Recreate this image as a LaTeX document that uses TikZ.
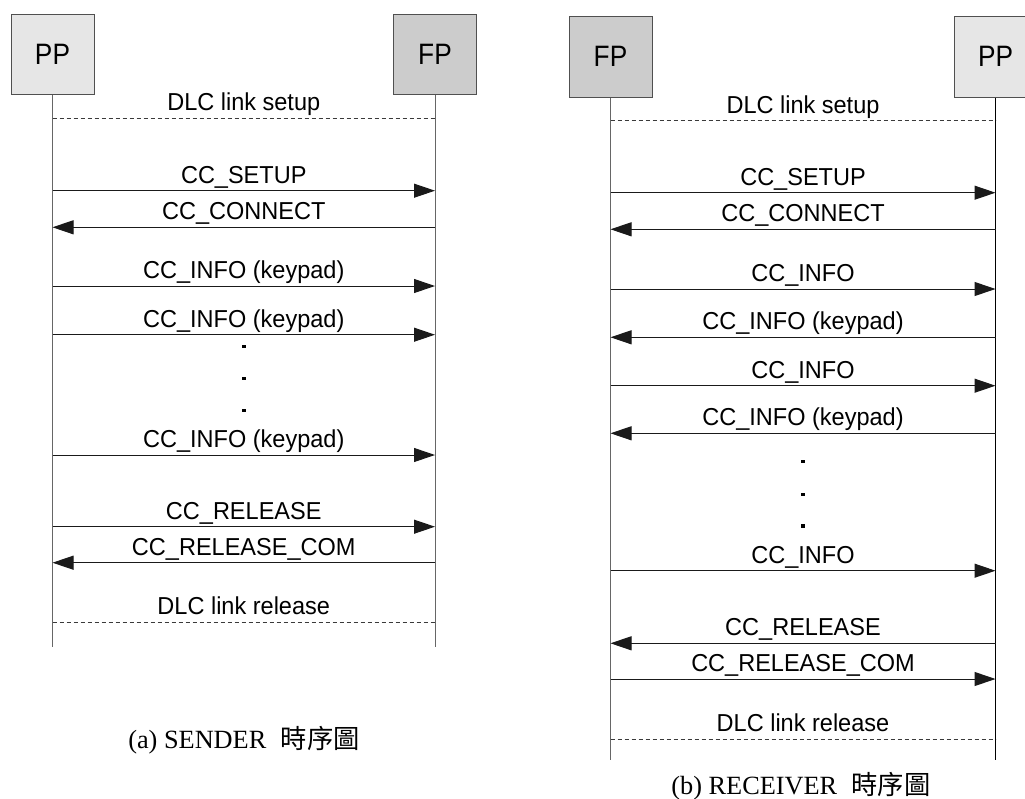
\documentclass[tikz,border=0pt]{standalone}
\usepackage{fontspec}
\usetikzlibrary{arrows.meta}
\newfontfamily\msgfont{Liberation Sans}[FakeStretch=0.96]
\newfontfamily\boxfont{Liberation Sans}[FakeStretch=0.89]
\newfontfamily\capfont{Liberation Serif}
\newfontfamily\cjkfont{Noto Sans CJK TC}

\definecolor{ppfill}{HTML}{E6E6E6}
\definecolor{fpfill}{HTML}{CCCCCC}
\definecolor{boxline}{HTML}{505050}
\definecolor{lifecol}{HTML}{666666}
\definecolor{msgcol}{HTML}{1A1A1A}
\definecolor{dashcol}{HTML}{3A3A3A}

\tikzset{
  entity/.style={draw=boxline, line width=1pt, inner sep=0pt,
    minimum width=83pt, minimum height=80pt,
    font=\boxfont\fontsize{29.5}{30}\selectfont},
  lifeline/.style={draw=lifecol, line width=1pt},
  msg/.style={draw=msgcol, line width=1pt,
    -{Triangle[length=21pt,width=14pt]}},
  dlcline/.style={draw=dashcol, line width=0.9pt, dash pattern=on 4pt off 3pt},
  lbl/.style={midway, anchor=base, yshift=7.5pt, inner sep=0pt,
    font=\msgfont\fontsize{24.5}{26}\selectfont, text=black},
  dotmark/.style={fill=black, inner sep=0pt, minimum size=3.4pt},
  caption/.style={anchor=base, inner sep=0pt,
    font=\capfont\fontsize{26.3}{28}\selectfont}
}

\begin{document}
\begin{tikzpicture}[x=1pt, y=-1pt]
\useasboundingbox[fill=white] (0,0) rectangle (1025,798);

% ---------- (a) sender ----------
\node[entity, fill=ppfill] (aPP) at (52.5,54) {PP};
\node[entity, fill=fpfill] (aFP) at (435,54) {FP};
\coordinate (aPPend) at (52.5,646.7);
\coordinate (aFPend) at (435,646.7);
\draw[lifeline] (aPP.south) -- (aPPend);
\draw[lifeline] (aFP.south) -- (aFPend);

\coordinate (aDs) at (52.5,118.3);
\coordinate (aDe) at (435,118.3);
\draw[dlcline] (aDs) -- node[lbl] {DLC link setup} (aDe);

\foreach \y/\xa/\xb/\t [count=\i] in {
    190.7/52.5/435/CC\_SETUP,
    227.3/435/52.5/CC\_CONNECT,
    286.0/52.5/435/CC\_INFO (keypad),
    334.7/52.5/435/CC\_INFO (keypad),
    455.0/52.5/435/CC\_INFO (keypad),
    526.7/52.5/435/CC\_RELEASE,
    562.7/435/52.5/CC\_RELEASE\_COM}{
  \coordinate (a-s\i) at (\xa,\y);
  \coordinate (a-e\i) at (\xb,\y);
  \draw[msg] (a-s\i) -- node[lbl] {\t} (a-e\i);
}

\node[dotmark] (a-d1) at (244,346.7) {};
\node[dotmark] (a-d2) at (244,378.3) {};
\node[dotmark] (a-d3) at (244,410.5) {};

\coordinate (aRs) at (52.5,622.3);
\coordinate (aRe) at (435,622.3);
\draw[dlcline] (aRs) -- node[lbl] {DLC link release} (aRe);

\node[caption] (capA) at (244,748.5) {(a) SENDER\hspace{0.55em}{\cjkfont 時序圖}};

% ---------- (b) receiver ----------
\node[entity, fill=fpfill, minimum height=81pt] (bFP) at (610.5,56.5) {FP};
\node[entity, fill=ppfill, minimum height=81pt] (bPP) at (995.5,56.5) {PP};
\coordinate (bFPend) at (610.5,760);
\coordinate (bPPend) at (995.5,760);
\draw[lifeline] (bFP.south) -- (bFPend);
\draw[lifeline, draw=black] (bPP.south) -- (bPPend);

\coordinate (bDs) at (610.5,120.7);
\coordinate (bDe) at (995.5,120.7);
\draw[dlcline] (bDs) -- node[lbl] {DLC link setup} (bDe);

\foreach \y/\xa/\xb/\t [count=\i] in {
    192.7/610.5/995.5/CC\_SETUP,
    229.3/995.5/610.5/CC\_CONNECT,
    289.0/610.5/995.5/CC\_INFO,
    337.3/995.5/610.5/CC\_INFO (keypad),
    385.7/610.5/995.5/CC\_INFO,
    433.3/995.5/610.5/CC\_INFO (keypad),
    570.7/610.5/995.5/CC\_INFO,
    643.3/995.5/610.5/CC\_RELEASE,
    679.0/610.5/995.5/CC\_RELEASE\_COM}{
  \coordinate (b-s\i) at (\xa,\y);
  \coordinate (b-e\i) at (\xb,\y);
  \draw[msg] (b-s\i) -- node[lbl] {\t} (b-e\i);
}

\node[dotmark] (b-d1) at (803,461.7) {};
\node[dotmark] (b-d2) at (803,494.3) {};
\node[dotmark] (b-d3) at (803,526.0) {};

\coordinate (bRs) at (610.5,739.3);
\coordinate (bRe) at (995.5,739.3);
\draw[dlcline] (bRs) -- node[lbl] {DLC link release} (bRe);

\node[caption] (capB) at (801,794) {(b) RECEIVER\hspace{0.55em}{\cjkfont 時序圖}};
\end{tikzpicture}
\end{document}
